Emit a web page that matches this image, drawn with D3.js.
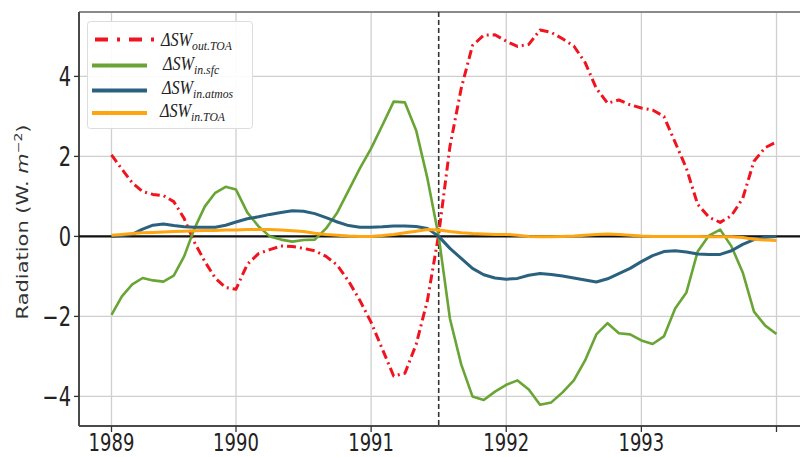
<!DOCTYPE html>
<html>
<head>
<meta charset="utf-8">
<script src="https://cdn.jsdelivr.net/npm/d3@7"></script>
<style>
  html, body { margin: 0; padding: 0; background: #fff; }
  svg { display: block; }
</style>
</head>
<body>
<svg id="chart" width="800" height="457"></svg>
<script>
// ---- data (monthly, Jan 1989 .. Jan 1994) ----
const startYear = 1989;
const yearTicks = [1989, 1990, 1991, 1992, 1993, 1994];
const yearTickLabels = ["1989", "1990", "1991", "1992", "1993", ""];
const valueTicks = [-4, -2, 0, 2, 4];
const valueTickLabels = ["\u22124", "\u22122", "0", "2", "4"];
const eruption = 1991.5;

const swOutTOA = [2.04,1.68,1.34,1.12,1.05,1.02,0.87,0.45,-0.15,-0.63,-1.04,-1.28,-1.32,
  -0.7,-0.43,-0.33,-0.24,-0.25,-0.3,-0.36,-0.5,-0.72,-1.12,-1.6,-2.15,
  -2.82,-3.49,-3.42,-2.7,-1.6,0.05,2.25,3.7,4.77,5.03,5.04,4.88,
  4.75,4.8,5.16,5.1,4.94,4.76,4.35,3.7,3.33,3.41,3.29,3.21,
  3.16,3.0,2.35,1.7,0.8,0.48,0.35,0.52,0.95,1.88,2.22,2.36];
const swInSfc = [-1.96,-1.5,-1.2,-1.04,-1.1,-1.13,-0.98,-0.5,0.2,0.75,1.09,1.24,1.17,
  0.6,0.25,0.0,-0.08,-0.13,-0.09,-0.08,0.2,0.6,1.15,1.7,2.2,
  2.78,3.37,3.35,2.65,1.45,0.0,-2.06,-3.2,-4.0,-4.09,-3.88,-3.71,
  -3.6,-3.83,-4.21,-4.15,-3.9,-3.6,-3.1,-2.45,-2.17,-2.42,-2.45,-2.6,
  -2.69,-2.5,-1.8,-1.4,-0.38,0.02,0.17,-0.25,-0.9,-1.88,-2.23,-2.44];
const swInAtmos = [0.0,0.02,0.05,0.18,0.28,0.31,0.27,0.24,0.23,0.23,0.23,0.28,0.36,
  0.44,0.49,0.55,0.6,0.64,0.63,0.57,0.47,0.36,0.27,0.23,0.23,
  0.24,0.26,0.26,0.25,0.2,0.0,-0.3,-0.55,-0.8,-0.96,-1.04,-1.07,
  -1.05,-0.97,-0.93,-0.95,-0.99,-1.04,-1.09,-1.14,-1.06,-0.93,-0.8,-0.63,
  -0.48,-0.38,-0.36,-0.39,-0.44,-0.45,-0.45,-0.36,-0.2,-0.08,-0.02,0.0];
const swInTOA = [0.03,0.05,0.07,0.09,0.1,0.11,0.12,0.13,0.14,0.15,0.15,0.16,0.16,
  0.17,0.17,0.17,0.16,0.14,0.12,0.08,0.05,0.03,0.01,0.0,0.0,
  0.02,0.05,0.09,0.13,0.17,0.16,0.12,0.09,0.07,0.06,0.05,0.05,
  0.03,0.0,-0.01,-0.01,0.0,0.01,0.03,0.05,0.06,0.05,0.03,0.01,
  0.0,0.0,0.0,0.0,0.0,-0.01,-0.01,-0.01,-0.03,-0.07,-0.09,-0.1];

const seriesNames = ["out.TOA", "in.sfc", "in.atmos", "in.TOA"];
const seriesValues = [swOutTOA, swInSfc, swInAtmos, swInTOA];

// ---- styles ----
const colors = ["#f0141e", "#69a534", "#2a617f", "#ffa510"];
const widths = [3, 2.6, 3, 3];
const dashes = ["9,4,2,4", null, null, null];
const legendDashes = ["13,9,3,9", null, null, null];

const svg = d3.select("#chart");
const L = 79, T = 12, B = 426, R = 812;
const SQ = 0.72; // horizontal squash of the reference's text

const x = d3.scaleLinear().domain([1989, 1990, 1994]).range([111.5, 236, 776.5]);
const y = d3.scaleLinear().domain([-4.74, 5.61]).range([B, T]);

// grid
svg.append("g").selectAll("line").data(yearTicks).join("line")
  .attr("x1", d => x(d)).attr("x2", d => x(d)).attr("y1", T).attr("y2", B)
  .attr("stroke", "#cfcfcf").attr("stroke-width", 1.3);
svg.append("g").selectAll("line").data(valueTicks).join("line")
  .attr("x1", L).attr("x2", R).attr("y1", d => y(d)).attr("y2", d => y(d))
  .attr("stroke", "#cfcfcf").attr("stroke-width", 1.3);

// spines
svg.append("line").attr("x1", L).attr("x2", R).attr("y1", T).attr("y2", T)
  .attr("stroke", "#8a8a8a").attr("stroke-width", 2);
svg.append("line").attr("x1", L).attr("x2", L).attr("y1", T).attr("y2", B)
  .attr("stroke", "#4a4a4a").attr("stroke-width", 2);
svg.append("line").attr("x1", L).attr("x2", R).attr("y1", B).attr("y2", B)
  .attr("stroke", "#4a4a4a").attr("stroke-width", 2);

// ticks
svg.append("g").selectAll("line").data(yearTicks).join("line")
  .attr("x1", d => x(d)).attr("x2", d => x(d)).attr("y1", B).attr("y2", B + 6)
  .attr("stroke", "#333").attr("stroke-width", 1.3);
svg.append("g").selectAll("line").data(valueTicks).join("line")
  .attr("x1", L - 5).attr("x2", L).attr("y1", d => y(d)).attr("y2", d => y(d))
  .attr("stroke", "#333").attr("stroke-width", 1.3);

// tick labels
svg.append("g").selectAll("text").data(yearTicks).join("text")
  .attr("transform", d => `translate(${x(d)},451) scale(${SQ},1)`)
  .attr("text-anchor", "middle")
  .attr("font-family", "DejaVu Sans").attr("font-size", 25).attr("fill", "#222")
  .text((d, i) => yearTickLabels[i]);
svg.append("g").selectAll("text").data(valueTicks).join("text")
  .attr("transform", d => `translate(71,${y(d)}) scale(${SQ},1)`)
  .attr("text-anchor", "end").attr("dy", "0.36em")
  .attr("font-family", "DejaVu Sans").attr("font-size", 27).attr("fill", "#222")
  .text((d, i) => valueTickLabels[i]);

// y label
const yl = svg.append("text")
  .attr("transform", `translate(28,222) scale(${SQ},1) rotate(-90)`)
  .attr("text-anchor", "middle")
  .attr("font-family", "DejaVu Sans").attr("font-size", 21).attr("fill", "#333");
yl.append("tspan").text("Radiation (W. ");
yl.append("tspan").attr("font-style", "italic").text("m");
yl.append("tspan").attr("font-size", 14).attr("dy", -8).text("\u22122");
yl.append("tspan").attr("dy", 8).text(")");

// zero line
svg.append("line").attr("x1", L).attr("x2", R).attr("y1", y(0)).attr("y2", y(0))
  .attr("stroke", "#111").attr("stroke-width", 2.2);

// eruption line
svg.append("line").attr("x1", x(eruption)).attr("x2", x(eruption)).attr("y1", T).attr("y2", B)
  .attr("stroke", "#333").attr("stroke-width", 1.6).attr("stroke-dasharray", "5,3");

// series
const line = d3.line().x((d, i) => x(startYear + i / 12)).y(d => y(d));
seriesValues.forEach((vals, k) => {
  svg.append("path").datum(vals)
    .attr("d", line)
    .attr("fill", "none")
    .attr("stroke", colors[k])
    .attr("stroke-width", widths[k])
    .attr("stroke-linejoin", "round")
    .attr("stroke-dasharray", dashes[k]);
});

// legend
const lg = svg.append("g");
lg.append("rect").attr("x", 87.5).attr("y", 21.5).attr("width", 165).attr("height", 107)
  .attr("rx", 3).attr("fill", "#fff").attr("fill-opacity", 0.92)
  .attr("stroke", "#dcdcdc").attr("stroke-width", 1);
const lineY = [39.5, 65.5, 90.5, 113];
const textY = [46, 70, 94, 117];
const textX = [161, 163, 162, 160];
seriesNames.forEach((name, k) => {
  lg.append("line").attr("x1", k === 0 ? 95 : 92).attr("x2", k === 0 ? 158 : 147)
    .attr("y1", lineY[k]).attr("y2", lineY[k])
    .attr("stroke", colors[k]).attr("stroke-width", 4)
    .attr("stroke-dasharray", legendDashes[k]);
  const t = lg.append("text")
    .attr("transform", `translate(${textX[k]},${textY[k]}) scale(0.9,1)`)
    .attr("font-family", "Liberation Serif").attr("font-style", "italic")
    .attr("font-size", 18).attr("fill", "#222");
  t.append("tspan").text("\u0394SW");
  t.append("tspan").attr("font-size", 13).attr("dy", 4).text(name);
});
</script>
</body>
</html>
